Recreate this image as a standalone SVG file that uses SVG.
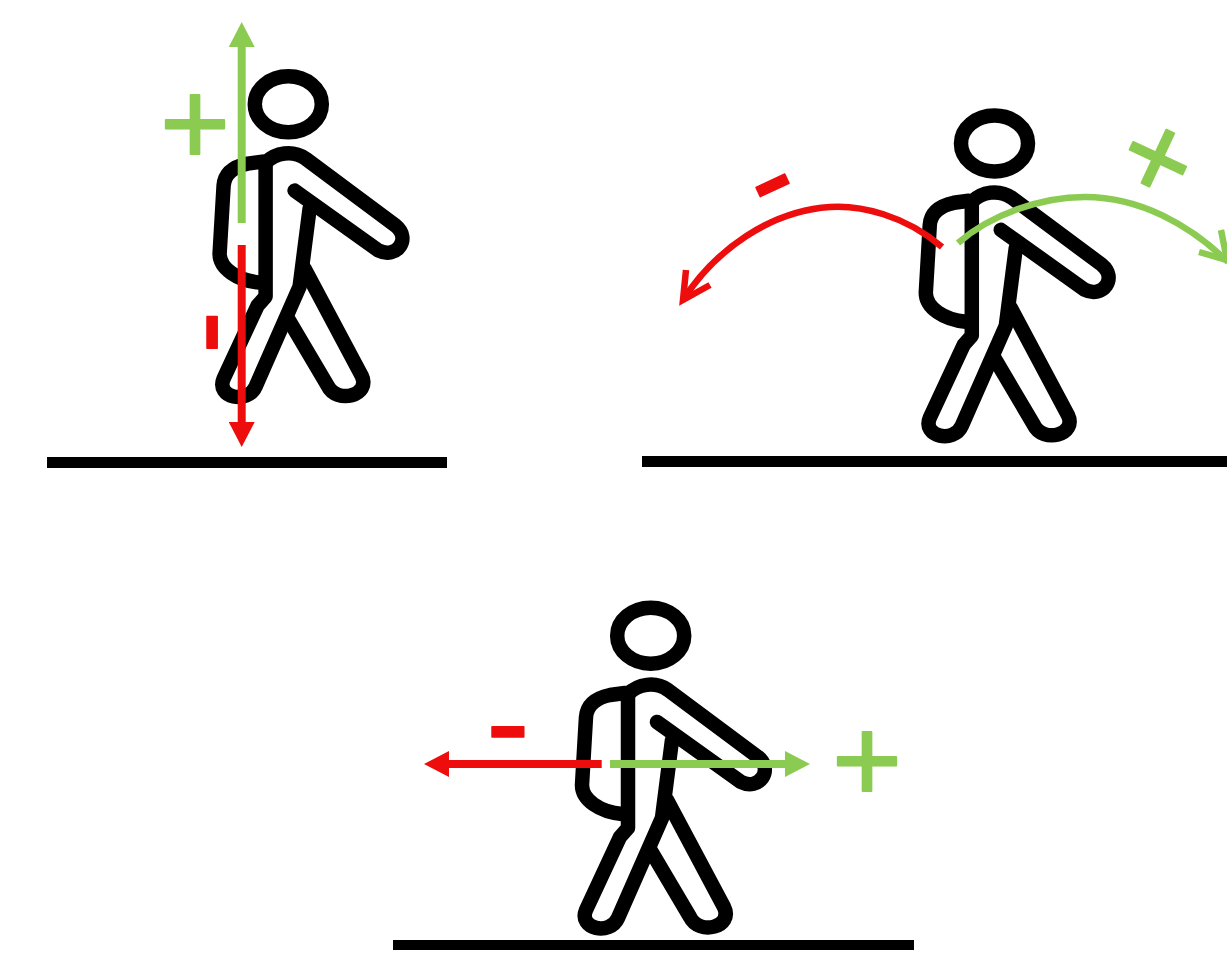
<svg xmlns="http://www.w3.org/2000/svg" width="1227" height="964" viewBox="0 0 1227 964">
  <style>
    .body { fill: none; stroke: #000; stroke-width: 14.5; stroke-linecap: round; stroke-linejoin: round; }
    .ground { fill: #000; }
    .straight { fill: none; stroke-width: 8; }
    .curve { fill: none; stroke-width: 6.5; stroke-linecap: butt; stroke-linejoin: miter; }
    .g { stroke: #8CCB52; }
    .r { stroke: #EE0D0D; }
    .sign { font-family: "Liberation Sans", Arial, sans-serif; text-anchor: middle; stroke-linejoin: round; }
    .plus { font-size: 120px; stroke-width: 2; fill: #8CCB52; stroke: #8CCB52; }
    .minus { font-size: 130px; stroke-width: 1.5; fill: #EE0D0D; stroke: #EE0D0D; }
  </style>
  <defs>
    <marker id="headG" markerUnits="userSpaceOnUse" viewBox="0 0 25 26" markerWidth="25" markerHeight="26" refX="1" refY="13" orient="auto">
      <path d="M0,0 L25,13 L0,26 Z" fill="#8CCB52"/>
    </marker>
    <marker id="headR" markerUnits="userSpaceOnUse" viewBox="0 0 25 26" markerWidth="25" markerHeight="26" refX="1" refY="13" orient="auto">
      <path d="M0,0 L25,13 L0,26 Z" fill="#EE0D0D"/>
    </marker>
    <g id="walker" class="body">
      <ellipse cx="240.7" cy="45.7" rx="33.5" ry="28"/>
      <path d="M247,132 L331,192 C349,201 364,180 348,167 L258,100 C245,91 228,94 218,104"/>
      <path d="M218,104 L218,238 L210,247 L176,320 C168,339 200,346 208,328 L252,228 L262,150"/>
      <path d="M257,210 L314,317 C324,337 289,346 280,327 L241,261"/>
      <path d="M215,103 L200,105 C186,108 177,115 176,127 L172,195 C172,210 190,222 212,224"/>
    </g>
  </defs>
  <rect width="1227" height="964" fill="#fff"/>

  <g id="figure-vertical">
    <use href="#walker" transform="translate(47.6,58.6)"/>
    <rect class="ground" x="47" y="457" width="400" height="11"/>
  </g>
  <g id="figure-arc">
    <use href="#walker" transform="translate(753.8,97.8)"/>
    <rect class="ground" x="642" y="456" width="585" height="11"/>
  </g>
  <g id="figure-horizontal">
    <use href="#walker" transform="translate(410,590)"/>
    <rect class="ground" x="393" y="940" width="521" height="10"/>
  </g>

  <g id="connectors">
    <path class="straight g" d="M241.7,223 V46" marker-end="url(#headG)"/>
    <path class="straight r" d="M241.7,245 V423" marker-end="url(#headR)"/>
    <path class="curve r" d="M942,247 C905,215 860,205 830,207 C770,211 715,250 683,300"/>
    <path class="curve r" d="M686,270 L683,300 L710,285"/>
    <path class="curve g" d="M958,243 C990,215 1040,197 1085,197 C1140,197 1190,225 1228,262"/>
    <path class="curve g" d="M1221,230 L1227,260 L1199,252"/>
    <path class="straight r" d="M601.7,764 H448" marker-end="url(#headR)"/>
    <path class="straight g" d="M610,764 H786" marker-end="url(#headG)"/>
  </g>

  <g id="labels">
    <text class="sign plus" transform="translate(195,124.5)" y="40">+</text>
    <text class="sign minus" transform="translate(213.5,332.5) rotate(90)" y="36">-</text>
    <text class="sign minus" transform="translate(772,184) rotate(-25)" y="36">-</text>
    <text class="sign plus" transform="translate(1158,158) rotate(25)" y="40">+</text>
    <text class="sign minus" transform="translate(508,730)" y="36">-</text>
    <text class="sign plus" transform="translate(867,761.5)" y="40">+</text>
  </g>
</svg>
